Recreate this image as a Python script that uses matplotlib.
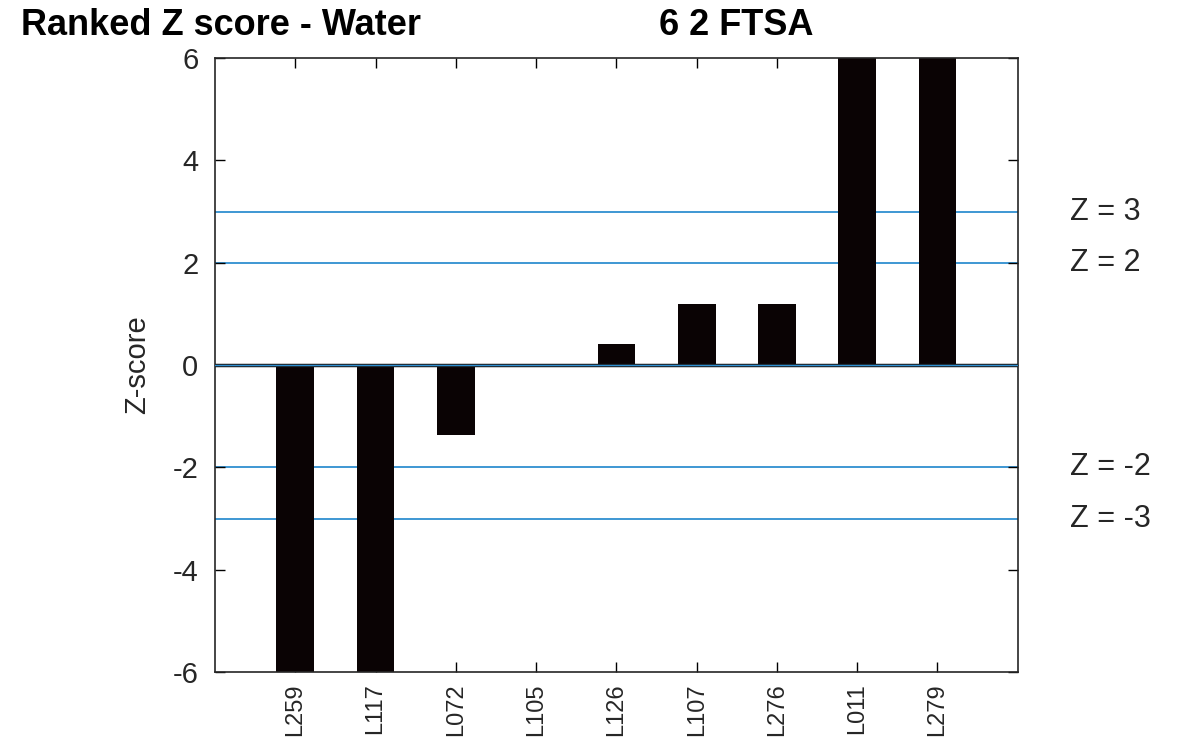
import numpy as np
import matplotlib
matplotlib.use("Agg")
import matplotlib.pyplot as plt

plt.rcParams['font.family'] = ['Liberation Sans', 'DejaVu Sans']

labs = ['L259', 'L117', 'L072', 'L105', 'L126', 'L107', 'L276', 'L011', 'L279']
zvals = [-7.5, -7.0, -1.37, 0.02, 0.42, 1.2, 1.2, 8.0, 8.5]
thresh = [3, 2, -2, -3]
thresh_txt = ['Z = 3', 'Z = 2', 'Z = -2', 'Z = -3']

fig = plt.figure(figsize=(11.84, 7.42), dpi=100)
ax = fig.add_axes([0.1816, 0.0943, 0.678, 0.8275])

x = np.arange(1, len(labs) + 1)
ax.bar(x, zvals, width=0.47, color='#0a0304', zorder=2)

ax.axhline(0, color='#1a1a1a', lw=2.5, zorder=3)
ax.axhline(0, color='#2f8fd0', lw=1, zorder=3)
for t in thresh:
    ax.axhline(t, color='#2f8fd0', lw=1.3, zorder=1)

ax.set_xlim(0, 10)
ax.set_ylim(-6, 6)
ax.set_xticks(x)
ax.set_xticklabels(labs, rotation=90, fontsize=17, color='#262626')
ax.set_yticks([-6, -4, -2, 0, 2, 4, 6])
ax.set_yticklabels(['-6', '-4', '-2', '0', '2', '4', '6'], fontsize=21, color='#262626')
ax.tick_params(direction='in', top=True, right=True, length=7, width=1)
ax.tick_params(axis='y', pad=12)
ax.tick_params(axis='x', pad=8)
for s in ax.spines.values():
    s.set_linewidth(1.2)
    s.set_color('#262626')
ax.set_ylabel('Z-score', fontsize=21, color='#262626')
ax.yaxis.set_label_coords(-0.08, 0.5)

for t, s in zip(thresh, thresh_txt):
    ax.text(1.065, t, s, transform=ax.get_yaxis_transform(), fontsize=22,
            va='center', ha='left', color='#262626')

# title sits on a baseline just above the top-left tick label
fig.text(0.018, 0.953, 'Ranked Z score - Water', fontsize=26, fontweight='bold', va='baseline')
fig.text(0.557, 0.953, '6 2 FTSA', fontsize=26, fontweight='bold', va='baseline')

fig.savefig('out.png', dpi=100)
